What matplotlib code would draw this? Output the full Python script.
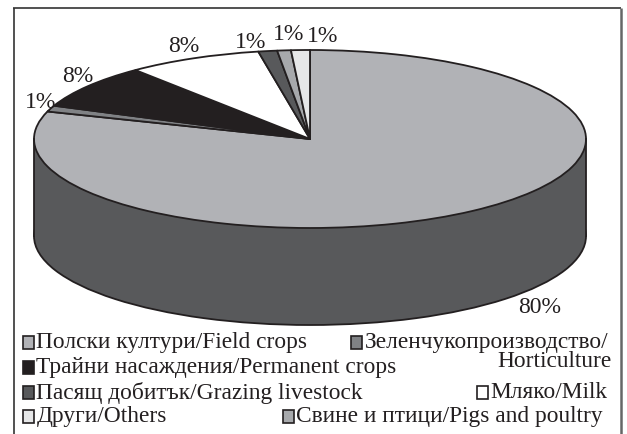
import matplotlib
matplotlib.use("Agg")
import matplotlib.pyplot as plt
from matplotlib.patches import Rectangle

plt.rcParams['font.family'] = ['Liberation Serif', 'DejaVu Serif']

# Data
categories = ["Полски култури/Field crops", "Зеленчукопроизводство/", "Трайни насаждения/Permanent crops",
              "Мляко/Milk", "Пасящ добитък/Grazing livestock", "Свине и птици/Pigs and poultry", "Други/Others"]
shares = [80, 1.1, 8, 7.9, 1.1, 0.8, 1.1]
value_labels = ["80%", "1%", "8%", "8%", "1%", "1%", "1%"]
colors = ["#b1b2b6", "#808285", "#231f20", "#ffffff", "#58595b", "#a7a9ac", "#e6e7e8"]
second_line = "Horticulture"

W, H = 627, 435
fig = plt.figure(figsize=(W / 100, H / 100), dpi=100, facecolor="white")

# Geometry in pixels
cx, cy, rx, ry, depth = 310, 140, 276, 89, 97
lw = 1.3
ink = "#231f20"

# Pie axes: one data unit = rx px horizontally, ry px vertically
pie_ax = fig.add_axes([0, 0, 1, 1])
start = dict(startangle=90, counterclock=False, radius=1)
pie_ax.pie([sum(shares)], colors=["#58595b"], center=(0, -depth / ry),
           wedgeprops=dict(edgecolor=ink, linewidth=lw), **start)
pie_ax.add_patch(Rectangle((-1, -depth / ry), 2, depth / ry, facecolor="#58595b", edgecolor="none"))
pie_ax.plot([-1, -1], [0, -depth / ry], color=ink, lw=lw)
pie_ax.plot([1, 1], [0, -depth / ry], color=ink, lw=lw)
pie_ax.pie(shares, colors=colors, wedgeprops=dict(edgecolor=ink, linewidth=lw, joinstyle="round"), **start)
pie_ax.set_aspect("auto")
pie_ax.set_xlim((0 - cx) / rx, (W - cx) / rx)
pie_ax.set_ylim((cy - H) / ry, cy / ry)
pie_ax.axis("off")

# Overlay in pixel coordinates
ax = fig.add_axes([0, 0, 1, 1])
ax.set_xlim(0, W)
ax.set_ylim(H, 0)
ax.axis("off")
ax.patch.set_alpha(0)

# Frame (open at the bottom)
ax.plot([13.5, 13.5], [H, 9], color="#333333", lw=1.2, solid_capstyle="butt")
ax.plot([13, 621], [9, 9], color="#333333", lw=1.2, solid_capstyle="butt")
ax.plot([621, 621], [9, H], color="#666666", lw=1.8, solid_capstyle="butt")

# Value labels
label_pos = [(540, 308), (41, 103), (78, 76), (184, 46), (251, 43), (289, 34), (323, 37)]
for (x, y), t in zip(label_pos, value_labels):
    ax.text(x, y, t, fontsize=17, color=ink, ha="center", va="center")

# Legend
legend_pos = [(23, 343), (351, 343), (23, 368), (477, 393), (23, 393), (283, 417), (23, 417)]
for (x, y), c, t in zip(legend_pos, colors, categories):
    ax.add_patch(Rectangle((x, y - 6.5), 11, 13, facecolor=c, edgecolor=ink, lw=1.2))
    ax.text(x + 13.5, y, t, fontsize=16.8, color=ink, ha="left", va="center")
ax.text(612, 362, second_line, fontsize=16.8, color=ink, ha="right", va="center")

fig.savefig("out.png", dpi=100, facecolor="white")
